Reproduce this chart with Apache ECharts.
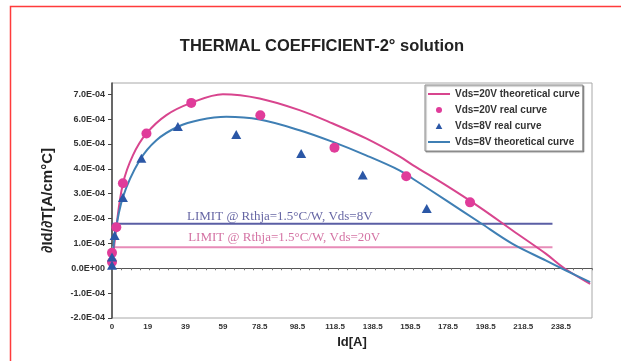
<!DOCTYPE html>
<html>
<head>
<meta charset="utf-8">
<script src="https://cdn.jsdelivr.net/npm/echarts@6/dist/echarts.min.js"></script>
<style>
html,body{margin:0;padding:0;background:#fff;}
#chart{width:621px;height:361px;}
</style>
</head>
<body>
<div id="chart"></div>
<script>
// ---- data (y values in A/cm°C) ----
var seriesNames = ['Vds=20V theoretical curve', 'Vds=20V real curve', 'Vds=8V real curve', 'Vds=8V theoretical curve'];

var real20X = [0, 0, 2.3, 5.8, 18.3, 42.1, 78.8, 118.2, 156.3, 190.2];
var real20Y = [0.25e-4, 0.62e-4, 1.65e-4, 3.42e-4, 5.42e-4, 6.65e-4, 6.15e-4, 4.85e-4, 3.70e-4, 2.65e-4];

var real8X = [0, 0, 1.4, 5.8, 15.6, 35.0, 66.0, 100.5, 133.2, 167.2];
var real8Y = [0.12e-4, 0.45e-4, 1.32e-4, 2.85e-4, 4.42e-4, 5.70e-4, 5.38e-4, 4.62e-4, 3.75e-4, 2.40e-4];

var theo20X = [0, 2.3, 5.8, 11.1, 18.3, 28.9, 42.1, 58.9, 78.4, 99.6, 117.3, 135, 152.7, 159.8, 177.5, 195.2, 212.8, 230.6, 240.3, 254];
var theo20Y = [0, 1.65e-4, 3.4e-4, 4.54e-4, 5.42e-4, 6.16e-4, 6.65e-4, 7.0e-4, 6.83e-4, 6.36e-4, 5.82e-4, 5.22e-4, 4.5e-4, 4.15e-4, 3.33e-4, 2.46e-4, 1.52e-4, 0.58e-4, 0, -0.63e-4];

var theo8X = [0, 1.4, 5.8, 14.7, 23.6, 35.0, 46.5, 60.7, 78.4, 99.6, 117.3, 135, 152.7, 159.8, 177.5, 195.2, 212.8, 230.6, 241.2, 254];
var theo8Y = [0, 1.25e-4, 2.86e-4, 4.34e-4, 5.15e-4, 5.69e-4, 5.96e-4, 6.09e-4, 5.98e-4, 5.55e-4, 5.08e-4, 4.54e-4, 3.94e-4, 3.6e-4, 2.73e-4, 1.85e-4, 0.98e-4, 0.31e-4, -0.09e-4, -0.56e-4];

var limitX = [0, 234];
var limit8V = 1.79e-4;
var limit20V = 0.85e-4;
var limit8Text = 'LIMIT @ Rthja=1.5°C/W, Vds=8V';
var limit20Text = 'LIMIT @ Rthja=1.5°C/W, Vds=20V';

var xTickLabels = [0, 19, 39, 59, 78.5, 98.5, 118.5, 138.5, 158.5, 178.5, 198.5, 218.5, 238.5];

// ---- helpers ----
function zip(xs, ys) { return xs.map(function (x, i) { return [x, ys[i]]; }); }
function fmtE(v) {
  if (Math.abs(v) < 1e-12) return '0.0E+00';
  var s = v.toExponential(1).split('e');
  var e = s[1];
  var sign = e.charAt(0);
  var n = e.slice(1);
  if (n.length < 2) n = '0' + n;
  return s[0] + 'E' + sign + n;
}
var minorTicks = [];
for (var t = 0; t <= 255; t += 5) minorTicks.push(t);

var PINK_LINE = '#d8458e', PINK_DOT = '#e03c9a', BLUE_LINE = '#3f7fb4', BLUE_TRI = '#2b57a6';
var LIM_BLUE = '#5a5ea4', LIM_PINK = '#e78cb8';
var SANS = 'Liberation Sans, Arial, sans-serif';

var chart = echarts.init(document.getElementById('chart'), null, { renderer: 'canvas' });
chart.setOption({
  backgroundColor: '#ffffff',
  animation: false,
  title: {
    text: 'THERMAL COEFFICIENT-2° solution',
    left: 317, top: 33, textAlign: 'center',
    textStyle: { fontFamily: SANS, fontSize: 16.5, fontWeight: 'bold', color: '#222' }
  },
  graphic: [
    { type: 'polyline', shape: { points: [[10.5, 361], [10.5, 6.5], [621, 6.5]] }, style: { stroke: '#ff3b3b', lineWidth: 1.5, fill: null }, silent: true }
  ],
  legend: {
    orient: 'vertical',
    left: 425, top: 85,
    padding: [4, 3, 4, 2],
    itemGap: 6,
    itemWidth: 22, itemHeight: 6,
    symbolKeepAspect: true,
    backgroundColor: '#fff',
    borderColor: '#8a8a8a', borderWidth: 1,
    shadowColor: 'rgba(0,0,0,0.35)', shadowOffsetX: 1, shadowOffsetY: 1, shadowBlur: 1,
    textStyle: { fontFamily: SANS, fontSize: 10, fontWeight: 'bold', color: '#333', lineHeight: 10 },
    data: [
      { name: seriesNames[0], itemStyle: { opacity: 0 } },
      { name: seriesNames[1], icon: 'circle' },
      { name: seriesNames[2], icon: 'path://M5,0 L10,9 L0,9 Z' },
      { name: seriesNames[3], itemStyle: { opacity: 0 } }
    ]
  },
  grid: {
    left: 112, right: 29, top: 83, bottom: 43,
    outerBoundsMode: 'none', containLabel: false,
    show: true, borderColor: '#a8a8a8', borderWidth: 1, backgroundColor: 'transparent'
  },
  xAxis: {
    type: 'value',
    min: 0, max: 255,
    name: 'Id[A]',
    nameLocation: 'middle', nameGap: 17,
    nameTextStyle: { fontFamily: SANS, fontSize: 13, fontWeight: 'bold', color: '#222' },
    axisLine: { onZero: true, lineStyle: { color: '#555', width: 1 } },
    axisTick: { show: true, inside: false, length: 2, customValues: minorTicks, lineStyle: { color: '#777' } },
    axisLabel: {
      customValues: xTickLabels, margin: 5,
      fontFamily: SANS, fontSize: 8, fontWeight: 'bold', color: '#333',
      formatter: function (v) { return String(v); }
    },
    splitLine: { show: false }
  },
  yAxis: {
    type: 'value',
    min: -2e-4, max: 7.45e-4, interval: 1e-4,
    name: '∂Id/∂T[A/cm°C]',
    nameLocation: 'middle', nameGap: 57, nameRotate: 90,
    nameTextStyle: { fontFamily: SANS, fontSize: 15, fontWeight: 'bold', color: '#222' },
    axisLine: { show: true, lineStyle: { color: '#444', width: 1.5 } },
    axisTick: { show: true, inside: false, length: 4, lineStyle: { color: '#444' } },
    axisLabel: {
      showMaxLabel: false, margin: 7,
      fontFamily: SANS, fontSize: 9, fontWeight: 'bold', color: '#333',
      formatter: fmtE
    },
    splitLine: { show: false }
  },
  series: [
    {
      name: 'limit8', type: 'line', symbol: 'none', silent: true,
      data: [[limitX[0], limit8V], [limitX[1], limit8V]],
      lineStyle: { color: LIM_BLUE, width: 2 }, z: 1
    },
    {
      name: 'limit20', type: 'line', symbol: 'none', silent: true,
      data: [[limitX[0], limit20V], [limitX[1], limit20V]],
      lineStyle: { color: LIM_PINK, width: 2 }, z: 1
    },
    {
      name: 'limitLabels', type: 'scatter', symbolSize: 1, silent: true,
      itemStyle: { color: 'rgba(0,0,0,0)' },
      data: [
        { value: [39.6, limit8V], label: { show: true, position: 'right', distance: 0, offset: [0, -7], formatter: limit8Text, color: '#3f3f8c' } },
        { value: [40.2, limit20V], label: { show: true, position: 'right', distance: 0, offset: [0, -10], formatter: limit20Text, color: '#c9508d' } }
      ],
      label: { fontFamily: 'Liberation Serif, Times New Roman, serif', fontSize: 13 },
      z: 2
    },
    {
      name: seriesNames[0], type: 'line', symbol: 'none', smooth: 0.35,
      data: zip(theo20X, theo20Y),
      lineStyle: { color: PINK_LINE, width: 2 }, itemStyle: { color: PINK_LINE }, z: 3
    },
    {
      name: seriesNames[3], type: 'line', symbol: 'none', smooth: 0.35,
      data: zip(theo8X, theo8Y),
      lineStyle: { color: BLUE_LINE, width: 2 }, itemStyle: { color: BLUE_LINE }, z: 3
    },
    {
      name: seriesNames[1], type: 'scatter', symbol: 'circle', symbolSize: 10,
      data: zip(real20X, real20Y),
      itemStyle: { color: PINK_DOT, opacity: 1 }, z: 4
    },
    {
      name: seriesNames[2], type: 'scatter', symbol: 'triangle', symbolSize: [10, 9],
      data: zip(real8X, real8Y),
      itemStyle: { color: BLUE_TRI, opacity: 1 }, z: 5
    }
  ]
});
</script>
</body>
</html>
